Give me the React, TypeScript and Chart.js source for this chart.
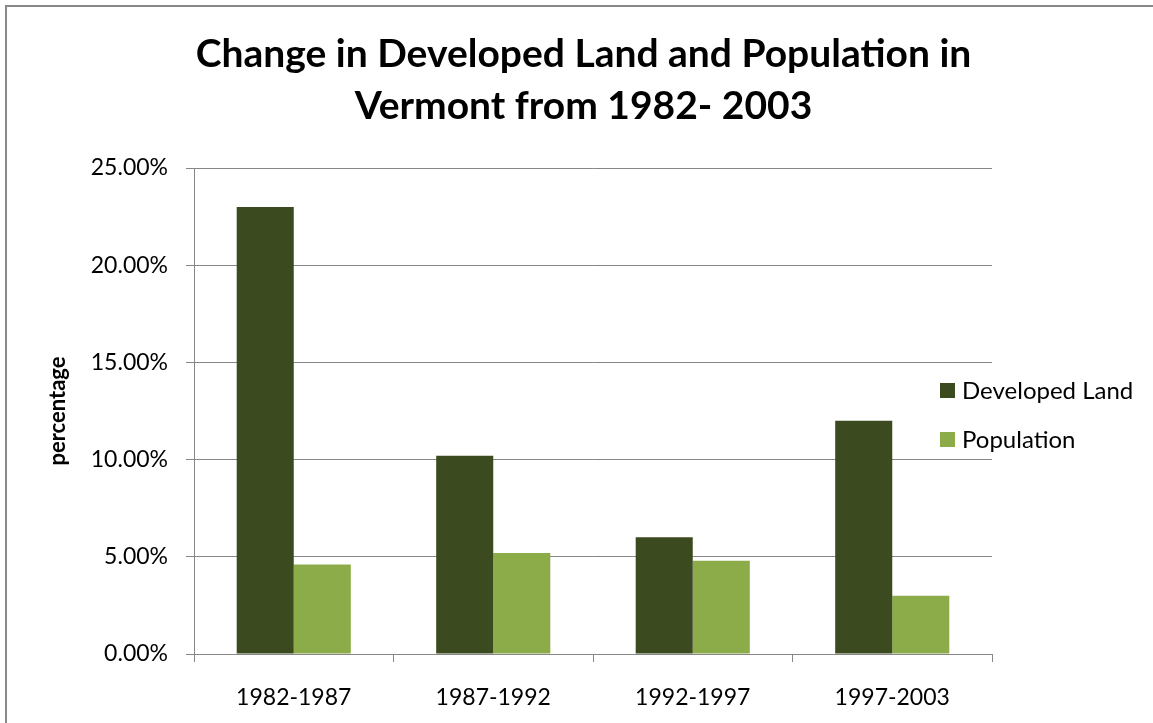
import React, { useEffect, useRef } from 'react';
import { Chart, registerables } from 'chart.js';

Chart.register(...registerables);

const categories = ['1982-1987', '1987-1992', '1992-1997', '1997-2003'];
const developedLand = [23.0, 10.2, 6.0, 12.0];
const population = [4.6, 5.2, 4.8, 3.0];
const seriesLabels = ['Developed Land', 'Population'];
const seriesColors = ['#3C4B1F', '#8BAC48'];
const titleLines = ['Change in Developed Land and Population in', 'Vermont from 1982- 2003'];
const yAxisTitle = 'percentage';
const yMin = 0;
const yMax = 25;
const yStep = 5;

const FONT = 'Lato, "Open Sans", "DejaVu Sans", sans-serif';
const GRID = '#868686';

const framePlugin = {
  id: 'frame',
  beforeDraw(chart: any) {
    const { ctx, width, height } = chart;
    ctx.save();
    ctx.fillStyle = '#ffffff';
    ctx.fillRect(0, 0, width, height);
    ctx.strokeStyle = '#898989';
    ctx.lineWidth = 2;
    ctx.beginPath();
    ctx.moveTo(6, height);
    ctx.lineTo(6, 6);
    ctx.lineTo(width, 6);
    ctx.stroke();
    ctx.restore();
  },
};

const legendPlugin = {
  id: 'sideLegend',
  afterDraw(chart: any) {
    const { ctx, chartArea } = chart;
    ctx.save();
    ctx.font = `24px ${FONT}`;
    ctx.textBaseline = 'middle';
    ctx.textAlign = 'left';
    const x = chartArea.right - 52;
    const ys = [390, 439];
    chart.data.datasets.forEach((ds: any, i: number) => {
      ctx.fillStyle = ds.backgroundColor;
      ctx.fillRect(x, ys[i] - 7, 15, 15);
      ctx.fillStyle = '#000000';
      ctx.fillText(ds.label, x + 22, ys[i] + 1);
    });
    ctx.restore();
  },
};

export default function App() {
  const ref = useRef<HTMLCanvasElement | null>(null);

  useEffect(() => {
    if (!ref.current) return;
    const chart = new Chart(ref.current, {
      type: 'bar',
      data: {
        labels: categories,
        datasets: [
          {
            label: seriesLabels[0],
            data: developedLand,
            backgroundColor: seriesColors[0],
            categoryPercentage: 0.572,
            barPercentage: 1,
            yAxisID: 'y',
          },
          {
            label: seriesLabels[1],
            data: population,
            backgroundColor: seriesColors[1],
            categoryPercentage: 0.572,
            barPercentage: 1,
            yAxisID: 'y',
          },
        ],
      },
      options: {
        responsive: false,
        animation: false,
        layout: { padding: { left: 14, right: 0, top: 0, bottom: 0 } },
        plugins: {
          legend: { display: false },
          tooltip: { enabled: false },
          title: {
            display: true,
            text: titleLines,
            color: '#000000',
            font: { family: FONT, size: 39, weight: 'bold', lineHeight: 52 / 39 },
            padding: { top: 28, bottom: 36 },
          },
        },
        scales: {
          x: {
            grid: {
              display: true,
              drawOnChartArea: false,
              drawTicks: true,
              tickLength: 8,
              color: GRID,
              offset: true,
            },
            border: { display: true, color: GRID, width: 1 },
            ticks: {
              color: '#000000',
              font: { family: FONT, size: 23 },
              padding: 22,
              maxRotation: 0,
            },
            afterFit(scale: any) {
              scale.height = 69;
            },
          },
          y: {
            position: 'left',
            min: yMin,
            max: yMax,
            grid: { color: GRID, tickLength: 8, drawTicks: true },
            border: { display: true, color: GRID, width: 1 },
            ticks: {
              stepSize: yStep,
              color: '#000000',
              font: { family: FONT, size: 23 },
              padding: 18,
              callback: (v: any) => Number(v).toFixed(2) + '%',
            },
            title: {
              display: true,
              text: yAxisTitle,
              color: '#000000',
              font: { family: FONT, size: 22, weight: 'bold' },
              padding: { top: 31, bottom: 0 },
            },
            afterFit(scale: any) {
              scale.width = 180;
            },
          },
          legendSpace: {
            position: 'right',
            min: yMin,
            max: yMax,
            grid: { display: false, drawOnChartArea: false, drawTicks: false },
            border: { display: false },
            ticks: { display: false },
            afterFit(scale: any) {
              scale.width = 161;
            },
          },
        },
      },
      plugins: [framePlugin, legendPlugin],
    });
    return () => chart.destroy();
  }, []);

  return (
    <div style={{ position: 'absolute', left: 0, top: 0, width: 1153, height: 723 }}>
      <canvas ref={ref} width={1153} height={723} style={{ width: 1153, height: 723, display: 'block' }} />
    </div>
  );
}
